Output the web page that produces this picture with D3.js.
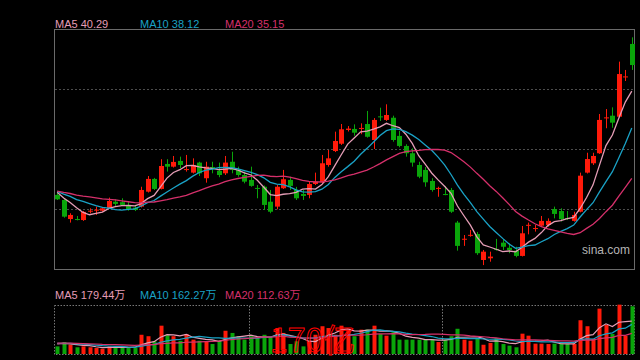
<!DOCTYPE html>
<html><head><meta charset="utf-8">
<script src="https://cdn.jsdelivr.net/npm/d3@7"></script>
<style>body{margin:0;background:#000;}svg{display:block;}</style>
</head><body><svg id="c" width="640" height="360"></svg>
<script>
// ---- data ----
const opens = [34.12,33.82,32.70,32.70,32.64,33.14,33.20,33.19,33.33,33.72,
33.69,33.53,33.37,33.43,34.31,35.06,34.47,35.94,35.78,36.12,
35.60,35.43,36.02,35.10,35.76,35.54,35.39,36.07,35.59,35.29,
35.00,34.53,34.60,33.72,33.43,34.51,35.00,34.41,34.17,34.12,
34.76,34.85,35.88,36.70,37.13,37.94,38.00,38.01,38.29,37.35,
38.74,38.53,38.66,37.59,37.00,36.57,35.88,35.59,34.94,34.48,
34.17,34.41,32.49,31.50,31.73,31.82,30.29,30.39,30.94,31.31,
31.01,30.84,30.53,32.32,32.13,32.31,32.35,33.29,33.17,32.76,
32.59,33.13,35.43,35.98,36.57,38.63,38.78,38.72,41.04,43.00];
const closes = [33.86,32.84,32.94,32.67,33.12,33.19,33.25,33.33,33.76,33.59,
33.53,33.27,33.23,34.41,35.06,34.47,35.82,35.78,36.06,35.88,
35.64,35.88,35.39,35.78,35.70,35.29,36.02,35.59,35.29,34.90,
34.65,34.49,33.53,33.13,34.60,35.04,34.65,33.92,34.06,34.76,
34.90,35.98,36.27,37.29,37.98,38.02,37.78,38.06,37.54,38.53,
38.70,38.82,37.35,37.00,36.57,36.02,35.19,34.86,34.41,34.53,
34.14,33.13,31.12,31.54,31.77,30.69,30.78,30.49,30.88,31.07,
30.88,30.53,31.86,32.36,32.17,32.59,32.59,33.00,32.69,32.73,
32.94,35.25,36.23,36.41,38.53,38.68,38.37,41.23,41.09,41.76];
const highs = [34.25,33.88,33.04,32.88,33.17,33.33,33.43,33.41,33.96,33.86,
33.92,33.72,33.53,34.60,35.23,35.12,36.22,36.22,36.41,36.37,
36.47,36.27,36.07,36.07,36.07,36.02,36.41,36.66,35.78,35.49,
35.78,34.70,34.67,34.41,34.70,35.59,35.19,34.59,34.41,34.90,
35.43,36.47,36.76,37.84,38.29,38.17,38.27,38.33,39.06,38.64,
39.25,39.45,38.78,37.88,37.10,36.86,36.07,35.76,35.10,34.60,
34.64,34.53,32.59,31.76,32.06,31.94,30.88,30.78,31.53,31.51,
31.27,31.07,32.29,32.49,32.35,32.88,32.74,33.43,33.33,33.17,
33.13,35.43,36.60,36.60,38.88,39.17,39.27,41.96,41.47,43.39];
const lows = [33.82,32.78,32.49,32.62,32.59,33.04,32.94,33.14,33.29,33.47,
33.47,33.19,33.17,33.38,34.26,34.41,34.44,35.49,35.73,35.69,
35.49,35.38,35.23,34.84,35.39,35.16,35.29,35.39,35.19,34.80,
34.60,33.92,33.23,33.04,33.27,34.47,34.41,33.82,33.82,33.92,
34.70,34.80,35.78,36.64,37.06,37.85,37.60,37.69,37.49,36.82,
38.47,38.47,37.25,36.92,36.37,35.78,35.10,34.60,34.31,34.01,
34.10,33.06,30.84,31.12,31.66,30.59,29.99,30.19,30.84,30.88,
30.69,30.45,30.50,31.80,31.96,32.25,32.25,32.74,32.55,32.64,
32.55,33.09,35.38,35.88,36.53,38.04,38.07,38.67,40.82,41.47];
// volume in 万
const volumes = [42,66,51,37,42,37,33,29,42,42,
37,33,33,106,98,70,156,103,98,73,
110,79,73,70,55,73,128,116,98,79,
98,88,106,92,143,116,55,70,42,70,
106,153,143,106,156,134,98,134,134,156,
110,101,121,79,79,79,79,79,79,66,
79,98,139,79,73,88,51,61,88,55,
46,37,112,101,57,57,55,57,57,55,
55,186,153,83,250,160,110,272,100,263];
// earlier sessions (off-screen) used for the moving averages
const priorCloses = [34.5,34.2,34.6,34.3,34.1,34.4,34.6,34.3,34.2,34.5,34.4,34.3,34.6,34.2,34.4,34.5,34.3,34.2,34.5];
const priorVolumes = [58,64,55,70,61,52,66,59,63,57,68,54,62,60,65,56,61,58,63];
const maPeriods = [5,10,20];
const maColors = ["#e59db6","#1aa2c6","#d5306b"];
// legend readouts shown in the picture
const priceMALabels = ["40.29","38.12","35.15"];
const volMALabels = ["179.44万","162.27万","112.63万"];
const priceDomain = [29.76,43.88];
const gridPrices = [33.29,36.82,40.35];
const volDomain = [0,270];
const separatorIdx = [30,60];
const overlayText = "170亿";

// ---- drawing ----
const svg = d3.select("#c");
svg.append("rect").attr("width",640).attr("height",360).attr("fill","#000");
const L=54,R=634,T=29,B=269, VT=305, VB=354;
const n = closes.length;
const x = d3.scaleBand().domain(d3.range(n)).range([L,R+1]);
const cx = i => x(i)+x.bandwidth()/2;
const y = d3.scaleLinear().domain(priceDomain).range([B,T]);
const vy = d3.scaleLinear().domain(volDomain).range([VB,VT]);
const up = i => closes[i] >= opens[i];
const RED="#ff1a0a", GREEN="#0aa50a";

function ma(all, prior, p){
  return d3.range(n).map(i=>{
    const end = i+prior.length;
    return d3.mean(all.slice(end-p+1,end+1));
  });
}
const allC = priorCloses.concat(closes);
const allV = priorVolumes.concat(volumes);
const priceMA = maPeriods.map(p=>ma(allC,priorCloses,p));
const volMA = maPeriods.map(p=>ma(allV,priorVolumes,p));

// grid
svg.append("g").selectAll("line").data(gridPrices).join("line")
  .attr("x1",L+1).attr("x2",R).attr("y1",d=>Math.round(y(d))+0.5).attr("y2",d=>Math.round(y(d))+0.5)
  .attr("stroke","#4d4d4d").attr("stroke-dasharray","2,2");
svg.append("rect").attr("x",L+0.5).attr("y",T+0.5).attr("width",R-L).attr("height",B-T)
  .attr("fill","none").attr("stroke","#6a6a6a");

// candles
const cg = svg.append("g");
d3.range(n).forEach(i=>{
  const c = up(i)?RED:GREEN;
  const xc = Math.round(cx(i))+0.5;
  cg.append("line").attr("x1",xc).attr("x2",xc).attr("y1",y(highs[i])).attr("y2",y(lows[i]))
    .attr("stroke",c).attr("stroke-width",1);
  const top = y(Math.max(opens[i],closes[i])), bot = y(Math.min(opens[i],closes[i]));
  cg.append("rect").attr("x",xc-2.5).attr("width",5).attr("y",top).attr("height",Math.max(1,bot-top))
    .attr("fill",c);
});

// MA lines
svg.append("defs").append("clipPath").attr("id","pc").append("rect")
  .attr("x",L+1).attr("y",T+1).attr("width",R-L-1).attr("height",B-T-1);
const lineP = d3.line().x((d,i)=>cx(i)).y(d=>y(d));
svg.append("g").attr("clip-path","url(#pc)").selectAll("path").data(priceMA).join("path")
  .attr("d",lineP).attr("fill","none").attr("stroke",(d,k)=>maColors[k]).attr("stroke-width",1.3);

// labels
const lx=[55,140,225];
maPeriods.forEach((p,k)=>{
  svg.append("text").attr("x",lx[k]).attr("y",27.5).attr("fill",maColors[k])
    .attr("font-family","Liberation Sans, Arial, sans-serif").attr("font-size",11)
    .text("MA"+p+" "+priceMALabels[k]);
});
svg.append("text").attr("x",582).attr("y",254).attr("fill","#b4b4b4")
  .attr("font-family","Liberation Sans, Arial, sans-serif").attr("font-size",12).text("sina.com");

// volume panel
const vg = svg.append("g");
vg.append("rect").attr("x",L+0.5).attr("y",VT+0.5).attr("width",R-L).attr("height",VB-VT)
  .attr("fill","none").attr("stroke","#777").attr("stroke-dasharray","1.5,1.5");
vg.selectAll("line.sep").data(separatorIdx).join("line").attr("class","sep")
  .attr("x1",d=>Math.round(x(d))+1.5).attr("x2",d=>Math.round(x(d))+1.5).attr("y1",VT+1).attr("y2",VB)
  .attr("stroke","#777").attr("stroke-dasharray","1.5,1.5");
vg.selectAll("rect.v").data(volumes).join("rect").attr("class","v")
  .attr("x",(d,i)=>Math.round(cx(i))-1.5).attr("width",4)
  .attr("y",d=>vy(d)).attr("height",d=>VB-vy(d))
  .attr("fill",(d,i)=>up(i)?RED:GREEN);
const lineV = d3.line().x((d,i)=>cx(i)).y(d=>vy(d));
vg.selectAll("path").data(volMA).join("path").attr("d",lineV).attr("fill","none")
  .attr("stroke",(d,k)=>maColors[k]).attr("stroke-width",1.2);
maPeriods.forEach((p,k)=>{
  svg.append("text").attr("x",lx[k]).attr("y",299).attr("fill",maColors[k])
    .attr("font-family","Liberation Sans, Arial, 'Noto Sans CJK SC', sans-serif").attr("font-size",11)
    .text("MA"+p+" "+volMALabels[k]);
});
svg.append("text").attr("x",270).attr("y",352).attr("fill","none").attr("stroke","#ff0000")
  .attr("stroke-width",1).attr("font-family","'Noto Sans CJK SC', sans-serif")
  .attr("font-size",32).text(overlayText);
</script></body></html>
